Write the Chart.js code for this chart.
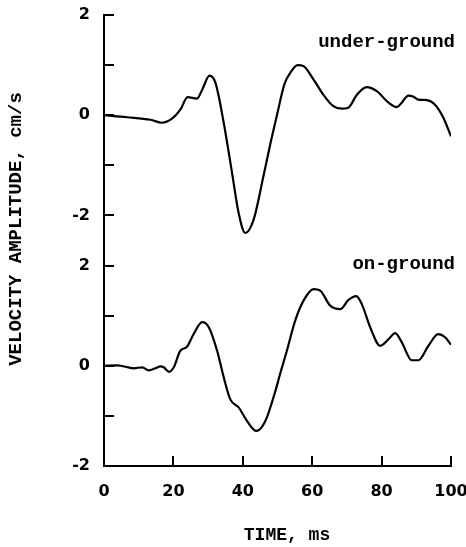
<!DOCTYPE html>
<html>
<head>
<meta charset="utf-8">
<script src="https://cdn.jsdelivr.net/npm/chart.js@4.4.1/dist/chart.umd.min.js"></script>
<style>
  html, body { margin: 0; padding: 0; background: #fff; }
  #wrap { width: 466px; height: 547px; }
</style>
</head>
<body>
<div id="wrap"><canvas id="chartCanvas" width="466" height="547"></canvas></div>
<script>
// under-ground record (ms, cm/s)
const timeTop = [0, 6.7, 13.4, 16.7, 19.6, 22, 24.1, 26.8, 28.3, 30.4, 32.1, 34.5, 36.9, 38.8, 40.7, 43.1, 46, 48, 50, 52, 54, 55.8, 57.5, 60.4, 63.2, 66.1, 68.5, 70.4, 72.9, 75.7, 78.6, 82, 84.4, 85.8, 87.7, 89.2, 90.6, 93, 95.4, 97.8, 100]
const velTop = [0, -0.04, -0.09, -0.15, -0.07, 0.11, 0.36, 0.33, 0.51, 0.79, 0.65, -0.15, -1.15, -1.95, -2.35, -2.09, -1.2, -0.55, 0.05, 0.62, 0.88, 1.0, 0.98, 0.71, 0.41, 0.18, 0.13, 0.15, 0.41, 0.56, 0.48, 0.25, 0.16, 0.25, 0.39, 0.37, 0.31, 0.3, 0.21, -0.05, -0.42]

// on-ground record
const timeBot = [0, 3.8, 8.6, 11, 12.9, 14.8, 16.3, 17.2, 18.8, 20.1, 22, 23.9, 25.8, 28.3, 30.2, 32.6, 34.5, 36.4, 38.8, 41.2, 43.9, 46.5, 49.4, 50.8, 52.7, 55.1, 57.5, 60.4, 62.3, 65.2, 68.1, 70.4, 72.7, 74.3, 76.7, 79.6, 82, 83.9, 85.8, 88.7, 90.6, 93.5, 96.3, 98.3, 100]
const velBot = [0, 0.01, -0.05, -0.03, -0.09, -0.05, -0.01, -0.03, -0.12, -0.03, 0.3, 0.38, 0.63, 0.87, 0.77, 0.3, -0.23, -0.67, -0.83, -1.1, -1.3, -1.1, -0.5, -0.15, 0.3, 0.9, 1.3, 1.53, 1.5, 1.2, 1.13, 1.31, 1.39, 1.23, 0.77, 0.4, 0.53, 0.65, 0.47, 0.11, 0.11, 0.4, 0.63, 0.57, 0.42]

const xTicks = [0, 20, 40, 60, 80, 100]
const yTicks = [-2, -1, 0, 1, 2]

const toPoints = (xs, ys) => xs.map((x, i) => ({ x: x, y: ys[i] }))

const tickFont = { family: 'DejaVu Sans', size: 16, weight: 'bold' }
const typeFont = 'bold 19px "Liberation Mono"'

function noPad(scale) {
    scale.paddingLeft = 0
    scale.paddingRight = 0
    scale.paddingTop = 0
    scale.paddingBottom = 0
}

function yAxis(min, max) {
    return {
        type: 'linear',
        position: 'left',
        stack: 'vel',
        stackWeight: 1,
        min: min,
        max: max,
        afterBuildTicks: scale => { scale.ticks = yTicks.map(v => ({ value: v })) },
        afterFit: scale => { scale.width = 60; noPad(scale) },
        ticks: {
            color: '#000',
            font: tickFont,
            padding: 24,
            callback: v => (v % 2 === 0 ? String(v) : '')
        },
        grid: { drawOnChartArea: false, color: '#000', lineWidth: 2, tickLength: -10 },
        border: { color: '#000', width: 2 }
    }
}

// labels and axis titles
const textPlugin = {
    id: 'texts',
    afterDraw(chart) {
        const ctx = chart.ctx
        const sx = chart.scales.x
        ctx.save()
        ctx.fillStyle = '#000'
        ctx.font = typeFont
        ctx.textAlign = 'right'
        ctx.textBaseline = 'middle'
        ctx.fillText('under-ground', sx.getPixelForValue(100) + 4, chart.scales.yTop.getPixelForValue(1.45))
        ctx.fillText('on-ground', sx.getPixelForValue(100) + 4, chart.scales.yBot.getPixelForValue(2.02))

        ctx.textAlign = 'center'
        ctx.font = 'bold 18px "Liberation Mono"'
        ctx.fillText('TIME, ms', 287, 535)

        ctx.font = typeFont
        ctx.translate(16, 229)
        ctx.rotate(-Math.PI / 2)
        ctx.fillText('VELOCITY AMPLITUDE, cm/s', 0, 0)
        ctx.restore()
    }
}

const ctx = document.getElementById('chartCanvas').getContext('2d')

new Chart(ctx, {
    type: 'line',
    data: {
        datasets: [{
            label: 'under-ground',
            data: toPoints(timeTop, velTop),
            yAxisID: 'yTop',
            borderColor: '#000',
            borderWidth: 2.2,
            pointRadius: 0,
            cubicInterpolationMode: 'monotone'
        }, {
            label: 'on-ground',
            data: toPoints(timeBot, velBot),
            yAxisID: 'yBot',
            borderColor: '#000',
            borderWidth: 2.2,
            pointRadius: 0,
            cubicInterpolationMode: 'monotone'
        }]
    },
    options: {
        responsive: false,
        animation: false,
        layout: { padding: { left: 44, right: 15, top: 15, bottom: 41 } },
        plugins: {
            legend: { display: false },
            tooltip: { enabled: false }
        },
        scales: {
            x: {
                type: 'linear',
                min: 0,
                max: 100,
                afterBuildTicks: scale => { scale.ticks = xTicks.map(v => ({ value: v })) },
                afterFit: scale => { scale.height = 40; noPad(scale) },
                ticks: { color: '#000', font: tickFont, padding: 26 },
                grid: { drawOnChartArea: false, color: '#000', lineWidth: 2, tickLength: -10 },
                border: { color: '#000', width: 2 }
            },
            yBot: yAxis(-2, 2.5),
            yTop: yAxis(-2.5, 2)
        }
    },
    plugins: [textPlugin]
})
</script>
</body>
</html>
